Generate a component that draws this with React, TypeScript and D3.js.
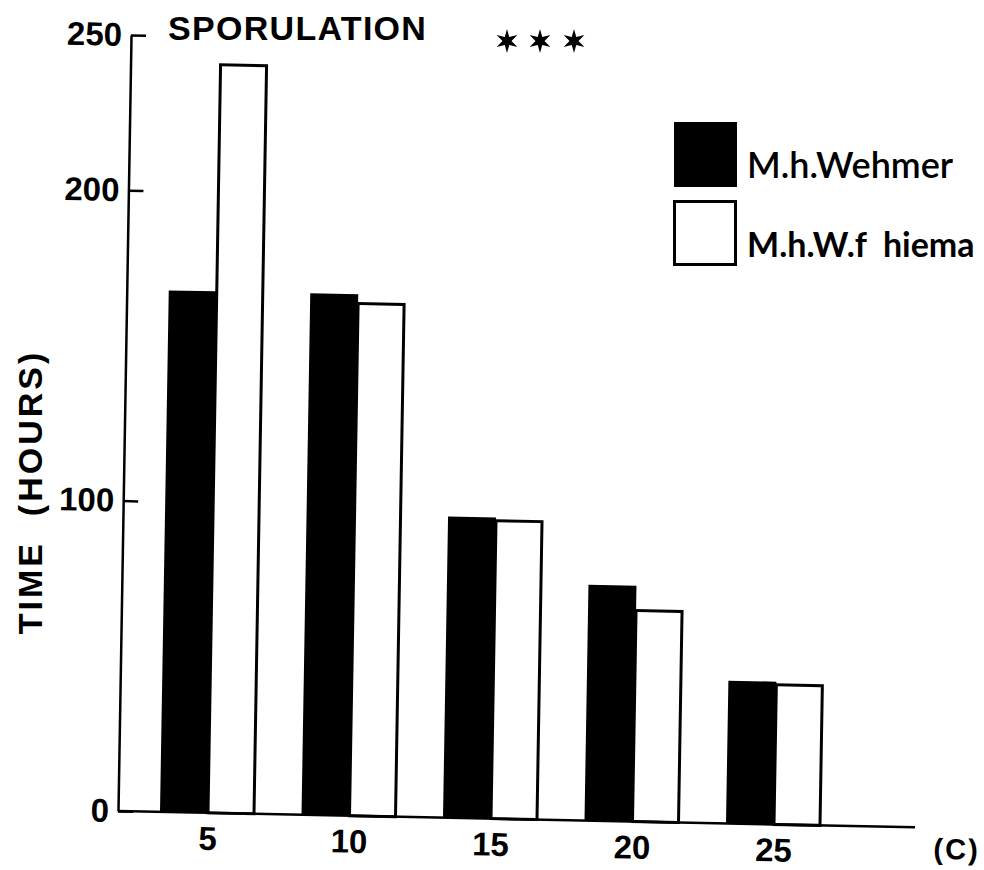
import React, { useEffect, useRef } from 'react';
import * as d3 from 'd3';

// Temperature (°C) groups and sporulation times (hours) for the two strains
const temperatures = [5, 10, 15, 20, 25];
const wehmerHours = [168, 168, 97, 76, 46];
const hiemalisHours = [241, 165, 96, 68, 45];
const yTickValues = [0, 100, 200, 250];
const seriesNames = ['M.h.Wehmer', 'M.h.W.f  hiema'];
const titleText = 'SPORULATION';
const yAxisTitle = 'TIME  (HOURS)';
const xUnitLabel = '(C)';

const W = 984;
const H = 870;
const ORIGIN_X = 118;
const ORIGIN_Y = 811;
const BAR_W = 48;

const FONT = '"Liberation Sans", Arial, sans-serif';

export default function App() {
  const ref = useRef<SVGSVGElement | null>(null);

  useEffect(() => {
    const svg = d3.select(ref.current);
    svg.selectAll('*').remove();

    const y = d3.scaleLinear().domain([0, 250]).range([ORIGIN_Y, 35]);
    const x = d3.scaleLinear().domain([5, 25]).range([208, 774]);

    // plot area, with the slight skew of the printed figure
    const plot = svg
      .append('g')
      .attr(
        'transform',
        `translate(${ORIGIN_X},${ORIGIN_Y}) matrix(1,0.0205,-0.0168,1,0,0) translate(${-ORIGIN_X},${-ORIGIN_Y})`
      );

    // bars
    const rows = temperatures.map((t, i) => ({ t, a: wehmerHours[i], b: hiemalisHours[i] }));
    plot
      .selectAll('rect.wehmer')
      .data(rows)
      .join('rect')
      .attr('class', 'wehmer')
      .attr('x', (d) => x(d.t) - BAR_W)
      .attr('y', (d) => y(d.a))
      .attr('width', BAR_W)
      .attr('height', (d) => y(0) - y(d.a))
      .attr('fill', '#000');

    plot
      .selectAll('rect.hiemalis')
      .data(rows)
      .join('rect')
      .attr('class', 'hiemalis')
      .attr('x', (d) => x(d.t))
      .attr('y', (d) => y(d.b))
      .attr('width', BAR_W - 2)
      .attr('height', (d) => y(0) - y(d.b))
      .attr('fill', '#fff')
      .attr('stroke', '#000')
      .attr('stroke-width', 3);

    // y axis with inward ticks
    const yAxis = d3
      .axisLeft(y)
      .tickValues(yTickValues)
      .tickSizeInner(-15)
      .tickSizeOuter(0)
      .tickPadding(9)
      .tickFormat(d3.format('d'));
    const gy = plot.append('g').attr('transform', `translate(${ORIGIN_X},0)`).call(yAxis);
    gy.select('.domain').attr('stroke', '#000').attr('stroke-width', 2.5);
    gy.selectAll('.tick line').attr('stroke', '#000').attr('stroke-width', 2.5);
    gy.selectAll('.tick text')
      .attr('fill', '#000')
      .style('font-family', FONT)
      .style('font-weight', 'bold')
      .style('font-size', '33px');

    // baseline
    plot
      .append('line')
      .attr('x1', ORIGIN_X)
      .attr('x2', 915)
      .attr('y1', y(0))
      .attr('y2', y(0))
      .attr('stroke', '#000')
      .attr('stroke-width', 2.5);

    // x labels
    plot
      .selectAll('text.xlab')
      .data(temperatures)
      .join('text')
      .attr('class', 'xlab')
      .attr('x', (d) => x(d))
      .attr('y', y(0) + 37)
      .attr('text-anchor', 'middle')
      .style('font-family', FONT)
      .style('font-weight', 'bold')
      .style('font-size', '33px')
      .text((d) => String(d));

    plot
      .append('text')
      .attr('x', 957)
      .attr('y', y(0) + 31)
      .attr('text-anchor', 'middle')
      .style('font-family', FONT)
      .style('font-weight', 'bold')
      .style('font-size', '29px')
      .style('letter-spacing', '2px')
      .text(xUnitLabel);

    // title
    svg
      .append('text')
      .attr('x', 168)
      .attr('y', 40)
      .style('font-family', FONT)
      .style('font-weight', 'bold')
      .style('font-size', '34px')
      .style('letter-spacing', '1.3px')
      .text(titleText);

    // significance stars
    const star = d3
      .lineRadial<number>()
      .angle((d) => (d * Math.PI) / 6)
      .radius((d, i) => (i % 2 === 0 ? 12 : 4.5))
      .curve(d3.curveLinearClosed);
    const starPath = star(d3.range(12)) as string;
    svg
      .selectAll('path.star')
      .data([507, 540, 574])
      .join('path')
      .attr('class', 'star')
      .attr('transform', (d) => `translate(${d},41)`)
      .attr('d', starPath)
      .attr('fill', '#000');

    // y axis title
    svg
      .append('text')
      .attr('transform', 'translate(42,492) rotate(-90)')
      .attr('text-anchor', 'middle')
      .style('font-family', FONT)
      .style('font-weight', 'bold')
      .style('font-size', '34px')
      .style('letter-spacing', '3px')
      .style('white-space', 'pre')
      .text(yAxisTitle);

    // legend
    const legend = svg.append('g');
    legend
      .append('rect')
      .attr('x', 674)
      .attr('y', 122)
      .attr('width', 63)
      .attr('height', 65)
      .attr('fill', '#000');
    legend
      .append('rect')
      .attr('x', 674.5)
      .attr('y', 201.5)
      .attr('width', 61)
      .attr('height', 63)
      .attr('fill', '#fff')
      .attr('stroke', '#000')
      .attr('stroke-width', 3);
    legend
      .selectAll('text')
      .data(seriesNames)
      .join('text')
      .attr('x', 747)
      .attr('y', (d, i) => (i === 0 ? 178 : 257))
      .style('font-family', 'Lato, "Open Sans", sans-serif')
      .style('font-weight', (d, i) => (i === 0 ? '600' : 'bold'))
      .style('font-size', (d, i) => (i === 0 ? '36px' : '34px'))
      .style('white-space', 'pre')
      .attr('fill', '#000')
      .text((d) => d);
  }, []);

  return (
    <svg
      ref={ref}
      width={W}
      height={H}
      style={{ position: 'absolute', left: 0, top: 0, background: '#fff' }}
    />
  );
}
